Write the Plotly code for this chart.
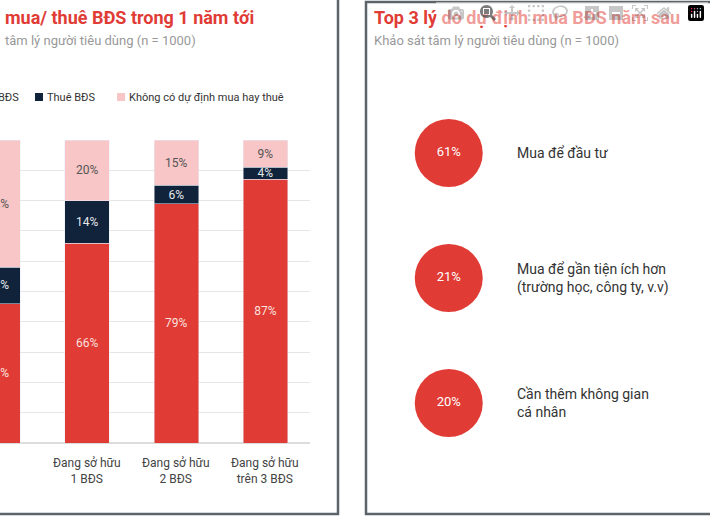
import plotly.graph_objects as go

categories = ["Chưa sở hữu<br>BĐS", "Đang sở hữu<br>1 BĐS", "Đang sở hữu<br>2 BĐS", "Đang sở hữu<br>trên 3 BĐS"]
buy = [46, 66, 79, 87]
rent = [12, 14, 6, 4]
none_ = [42, 20, 15, 9]

reasons = ["Mua để đầu tư", "Mua để gần tiện ích hơn<br>(trường học, công ty, v.v)", "Cần thêm không gian<br>cá nhân"]
reason_pct = [61, 21, 20]

W, H = 710, 520
px = lambda v: v / W
py = lambda v: 1 - v / H

RED = "#e03b35"
NAVY = "#10233a"
PINK = "#f8c6c6"
FONT = "Roboto"

xs = list(range(len(categories)))
fig = go.Figure()
fig.add_bar(x=xs, y=buy, name="Mua BĐS", marker_color=RED, width=0.5,
            text=[f"{v}%" for v in buy], textposition="inside", insidetextanchor="middle",
            constraintext="none", textfont=dict(color="#fbe0df", size=12, family=FONT))
fig.add_bar(x=xs, y=rent, name="Thuê BĐS", marker_color=NAVY, width=0.5,
            text=[f"{v}%" for v in rent], textposition="inside", insidetextanchor="middle",
            constraintext="none", textfont=dict(color="#e6e8ec", size=12, family=FONT))
fig.add_bar(x=xs, y=none_, name="Không có dự định mua hay thuê", marker_color=PINK, width=0.5,
            text=[f"{v}%" for v in none_], textposition="inside", insidetextanchor="middle",
            constraintext="none", textfont=dict(color="#555", size=12, family=FONT))

ry = [1, 2, 3]
fig.add_scatter(x=[0] * 3, y=ry, mode="markers+text", xaxis="x2", yaxis="y2",
                marker=dict(size=68, color=RED, line=dict(width=0)),
                text=[f"{v}%" for v in reason_pct], textposition="middle center",
                textfont=dict(color="white", size=13, family=FONT), showlegend=False)
for r, t in zip(ry, reasons):
    fig.add_annotation(x=0.86, y=r, xref="x2", yref="y2", text=t, showarrow=False,
                       xanchor="left", align="left", font=dict(size=14, color="#333", family=FONT))

for x, c in zip(xs, categories):
    fig.add_annotation(x=x, y=py(454), xref="x", yref="paper", yanchor="top", text=c, showarrow=False,
                       font=dict(size=12, color="#444", family=FONT), align="center")

shapes = [
    dict(type="rect", xref="paper", yref="paper", x0=px(-5), x1=px(338), y0=py(514), y1=py(-5),
         line=dict(color="#5d6469", width=2.5), fillcolor="rgba(0,0,0,0)"),
    dict(type="rect", xref="paper", yref="paper", x0=px(366), x1=px(715), y0=py(514), y1=py(2),
         line=dict(color="#5d6469", width=2.5), fillcolor="rgba(0,0,0,0)"),
    dict(type="rect", xref="paper", yref="paper", x0=px(35), x1=px(43), y0=py(101), y1=py(93),
         fillcolor=NAVY, line=dict(width=0)),
    dict(type="rect", xref="paper", yref="paper", x0=px(117), x1=px(125), y0=py(101), y1=py(93),
         fillcolor=PINK, line=dict(width=0)),
]
anns = [
    dict(x=px(3), y=py(18), text="<b>mua/ thuê BĐS trong 1 năm tới</b>", font=dict(size=18, color=RED)),
    dict(x=px(3), y=py(41), text="tâm lý người tiêu dùng (n = 1000)", font=dict(size=13, color="#999")),
    dict(x=px(-4), y=py(97), text="BĐS", font=dict(size=11, color="#333")),
    dict(x=px(45), y=py(97), text="Thuê BĐS", font=dict(size=11, color="#333")),
    dict(x=px(127), y=py(97), text="Không có dự định mua hay thuê", font=dict(size=11, color="#333")),
    dict(x=px(372), y=py(18), text="<b>Top 3 lý do dự định mua BĐS năm sau</b>", font=dict(size=18, color=RED)),
    dict(x=px(372), y=py(41), text="Khảo sát tâm lý người tiêu dùng (n = 1000)", font=dict(size=13, color="#999")),
]
for a in anns:
    a.update(xref="paper", yref="paper", showarrow=False, xanchor="left", yanchor="middle")
    a["font"]["family"] = FONT
    fig.add_annotation(**a)

fig.update_layout(
    width=W, height=H, margin=dict(l=0, r=0, t=0, b=0),
    paper_bgcolor="white", plot_bgcolor="white", barmode="stack", showlegend=False,
    font=dict(family=FONT),
    xaxis=dict(domain=[0, px(310)], range=[0.022, 3.5], showticklabels=False, showgrid=False,
               zeroline=False, fixedrange=True),
    yaxis=dict(domain=[py(443), py(140)], range=[0, 100], dtick=10, showticklabels=False,
               gridcolor="#e6e6e6", gridwidth=1, zeroline=True, zerolinecolor="#dcdcdc"),
    xaxis2=dict(domain=[px(372), px(702)], range=[-1, 3.3], visible=False, anchor="y2"),
    yaxis2=dict(domain=[py(503), py(103)], range=[3.8, 0.6], visible=False, anchor="x2"),
    shapes=shapes,
)
fig.write_html("out.html", post_script="document.body.style.margin='0';document.body.style.overflow='hidden';")
